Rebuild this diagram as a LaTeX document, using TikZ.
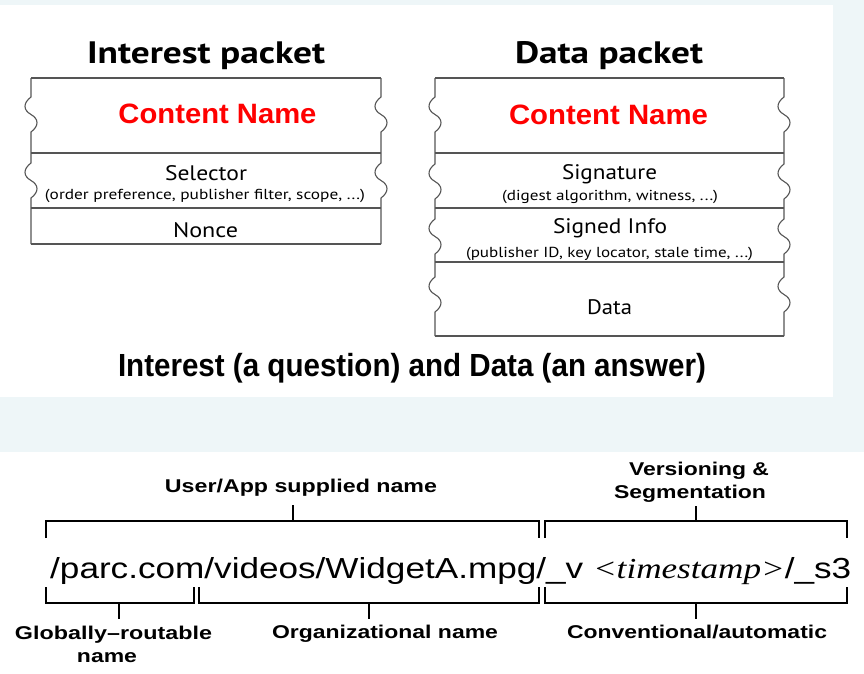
\documentclass[tikz,border=0pt]{standalone}
\usepackage{fontspec}
\usepackage{graphicx}
\setmainfont{Liberation Sans}
\newfontfamily\myr{PT Sans}
\newfontfamily\arialf{Liberation Sans}
\newfontfamily\tmsf{Liberation Serif}
\definecolor{bgblue}{HTML}{EEF6F8}
\definecolor{boxline}{HTML}{555555}
\definecolor{cred}{HTML}{FF0000}
\newcommand\fitw[2]{\resizebox{#1}{\height}{#2}}
% squiggle on a vertical edge at x=#1 starting at y=#2 (y grows downward)
\newcommand\sqg[2]{-- (#1,#2) .. controls (#1-8,#2+6) and (#1-8,#2+13) .. (#1,#2+17.5) .. controls (#1+8,#2+22) and (#1+8,#2+29) .. (#1,#2+35)}
\tikzset{
  lbl/.style={inner sep=0pt, anchor=base},
  boxl/.style={draw=boxline, line width=1.1pt},
  brk/.style={draw=black, line width=2pt},
}
\begin{document}
\begin{tikzpicture}[x=1pt,y=-1pt]
\useasboundingbox (0,0) rectangle (864,673);
\fill[bgblue] (0,0) rectangle (864,673);
\fill[white] (0,5) rectangle (833,397);
\fill[white] (0,452) rectangle (864,673);

% ---------- Interest packet ----------
\node[lbl] (ititle) at (206,63) {\fitw{238pt}{\myr\bfseries\fontsize{31}{31}\selectfont Interest packet}};
\draw[boxl] (31,78) -- (381,78);
\draw[boxl] (31,153) -- (381,153);
\draw[boxl] (31,208) -- (381,208);
\draw[boxl] (31,244) -- (381,244);
\draw[boxl] (31,78) \sqg{31}{97} \sqg{31}{163} -- (31,244);
\draw[boxl] (381,78) \sqg{381}{97} \sqg{381}{163} -- (381,244);
\node[lbl] (icn) at (217.5,123) {\fitw{198pt}{\arialf\bfseries\fontsize{28}{28}\selectfont\color{cred}Content Name}};
\node[lbl] (isel) at (206,180) {\fitw{82pt}{\myr\fontsize{21}{21}\selectfont Selector}};
\node[lbl] (iseld) at (205,199) {\fitw{320pt}{\myr\fontsize{14.5}{15}\selectfont (order preference, publisher filter, scope, ...)}};
\node[lbl] (inon) at (205.5,237) {\fitw{65pt}{\myr\fontsize{21}{21}\selectfont Nonce}};

% ---------- Data packet ----------
\node[lbl] (dtitle) at (609,63) {\fitw{188pt}{\myr\bfseries\fontsize{31}{31}\selectfont Data packet}};
\draw[boxl] (435,78) -- (784,78);
\draw[boxl] (435,153) -- (784,153);
\draw[boxl] (435,208) -- (784,208);
\draw[boxl] (435,262) -- (784,262);
\draw[boxl] (435,336) -- (784,336);
\draw[boxl] (435,78) \sqg{435}{97} \sqg{435}{164} \sqg{435}{219} \sqg{435}{277} -- (435,336);
\draw[boxl] (784,78) \sqg{784}{97} \sqg{784}{164} \sqg{784}{219} \sqg{784}{277} -- (784,336);
\node[lbl] (dcn) at (608.5,124) {\fitw{199pt}{\arialf\bfseries\fontsize{28}{28}\selectfont\color{cred}Content Name}};
\node[lbl] (dsig) at (609.5,179) {\fitw{95pt}{\myr\fontsize{21}{21}\selectfont Signature}};
\node[lbl] (dsigd) at (610,200) {\fitw{216pt}{\myr\fontsize{14.5}{15}\selectfont (digest algorithm, witness, ...)}};
\node[lbl] (dsi) at (610,233) {\fitw{114pt}{\myr\fontsize{21}{21}\selectfont Signed Info}};
\node[lbl] (dsid) at (609.5,257) {\fitw{287pt}{\myr\fontsize{14.5}{15}\selectfont (publisher ID, key locator, stale time, ...)}};
\node[lbl] (ddata) at (609.5,314) {\fitw{45pt}{\myr\fontsize{21}{21}\selectfont Data}};

% caption
\node[lbl] (cap) at (412,376) {\fitw{588pt}{\arialf\bfseries\fontsize{32}{32}\selectfont Interest (a question) and Data (an answer)}};

% ---------- Name structure ----------
\node[lbl] (uapp) at (301,492) {\fitw{272pt}{\arialf\bfseries\fontsize{18.5}{19}\selectfont User/App supplied name}};
\node[lbl] (vers) at (699,475) {\fitw{140pt}{\arialf\bfseries\fontsize{18.5}{19}\selectfont Versioning \&}};
\node[lbl] (segm) at (690,498) {\fitw{152pt}{\arialf\bfseries\fontsize{18.5}{19}\selectfont Segmentation}};

\draw[brk] (46,538) -- (46,521) -- (539,521) -- (539,538);
\draw[brk] (293,505) -- (293,521);
\draw[brk] (545,538) -- (545,521) -- (847,521) -- (847,538);
\draw[brk] (696,506) -- (696,521);

\node[lbl, anchor=base west] (name) at (50,578) {\fitw{801pt}{\arialf\fontsize{29}{29}\selectfont /parc.com/videos/WidgetA.mpg/\_v {\tmsf\itshape <timestamp>}/\_s3}};

\draw[brk] (46,587) -- (46,603) -- (194,603) -- (194,587);
\draw[brk] (119,603) -- (119,619);
\draw[brk] (199,587) -- (199,603) -- (539,603) -- (539,587);
\draw[brk] (369,603) -- (369,619);
\draw[brk] (545,587) -- (545,603) -- (847,603) -- (847,587);
\draw[brk] (696,603) -- (696,619);

\node[lbl] (glob) at (113.5,639) {\fitw{197pt}{\arialf\bfseries\fontsize{18.5}{19}\selectfont Globally–routable}};
\node[lbl] (globn) at (107,662) {\fitw{60pt}{\arialf\bfseries\fontsize{18.5}{19}\selectfont name}};
\node[lbl] (org) at (385,638) {\fitw{226pt}{\arialf\bfseries\fontsize{18.5}{19}\selectfont Organizational name}};
\node[lbl] (conv) at (697,638) {\fitw{260pt}{\arialf\bfseries\fontsize{18.5}{19}\selectfont Conventional/automatic}};
\end{tikzpicture}
\end{document}
